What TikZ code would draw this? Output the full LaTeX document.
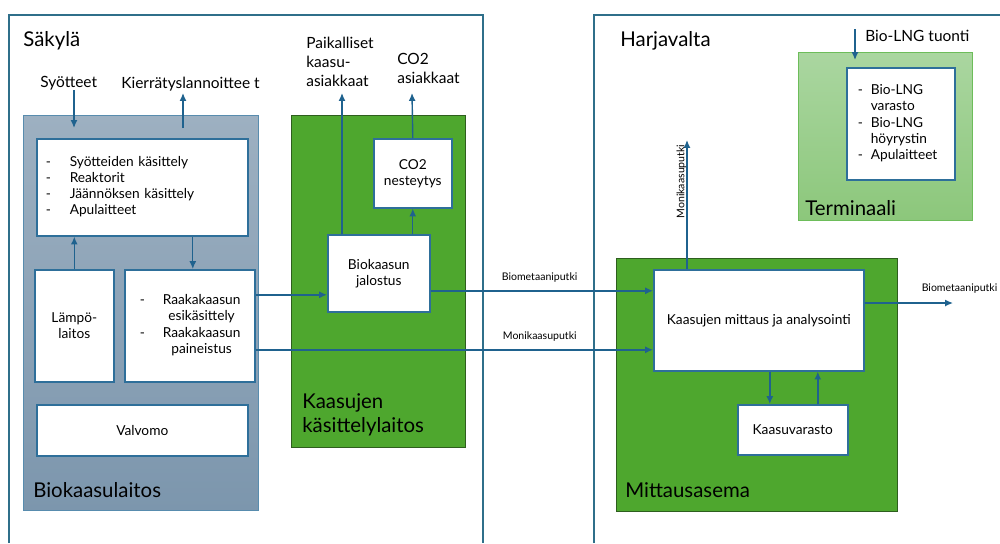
\documentclass[tikz,border=0pt]{standalone}
\usepackage{fontspec}
\setmainfont{Lato}
\usetikzlibrary{arrows.meta,positioning}

\definecolor{framec}{HTML}{2F6F8A}
\definecolor{boxc}{HTML}{2E6F9A}
\definecolor{pipec}{HTML}{1F628E}
\definecolor{plantt}{HTML}{9DB0C1}
\definecolor{plantb}{HTML}{7C96AD}
\definecolor{greenc}{HTML}{4EA72E}
\definecolor{greend}{HTML}{2E5E1E}
\definecolor{termt}{HTML}{AAD6A0}
\definecolor{termb}{HTML}{8CC77B}
\definecolor{termd}{HTML}{6DBD5A}

\begin{document}
\begin{tikzpicture}[
    x=0.2mm, y=-0.2mm,
    frame/.style={draw=framec, line width=1.1pt},
    plant/.style={rectangle, draw=boxc!80, line width=0.8pt, top color=plantt, bottom color=plantb, anchor=north west},
    green/.style={rectangle, draw=greend, line width=0.8pt, fill=greenc, anchor=north west},
    term/.style={rectangle, draw=termd, line width=0.8pt, top color=termt, bottom color=termb, anchor=north west},
    box/.style={rectangle, draw=boxc, line width=0.9pt, fill=white, anchor=north west, align=center, inner sep=0pt, font=\fontsize{7.8}{9.2}\selectfont},
    arrow/.style={-{Latex[length=4.5pt,width=4pt]}, draw=pipec, line width=0.8pt},
    title/.style={font=\fontsize{11.6}{13.7}\selectfont, inner sep=0pt, anchor=west, align=left},
    label/.style={font=\fontsize{8.8}{10.8}\selectfont, inner sep=0pt, anchor=west, align=left},
    pipe/.style={font=\fontsize{6}{7}\selectfont, inner sep=0pt}
]
\useasboundingbox (0,0) rectangle (1000,543);

% Site frames
\draw[frame] (9,543) |- (483,15) -- (483,543);
\draw[frame] (594,543) |- (1000,15);
\node[title] (sak) at (23,41) {Säkylä};
\node[title] (har) at (620,41) {Harjavalta};

% Biokaasulaitos
\node[plant, minimum width=47mm, minimum height=79mm] (bio) at (23,115) {};
\node[title] (biot) at (33,490) {Biokaasulaitos};
\node[box, minimum width=42.2mm, minimum height=19.4mm, text width=38.6mm, align=left] (lista) at (36,138)
    {\begin{tabular}{@{}p{4.8mm}@{}l@{}}
     - & Syötteiden käsittely\\
     - & Reaktorit\\
     - & Jäännöksen käsittely\\
     - & Apulaitteet
     \end{tabular}};
\node[box, minimum width=15.8mm, minimum height=22.4mm] (lampo) at (34,269) {Lämpö-\\laitos};
\node[box, minimum width=26mm, minimum height=22.4mm, text width=20mm, align=left] (raaka) at (124,269)
    {\begin{tabular}{@{}p{4.6mm}@{}c@{}}
     - & Raakakaasun\\
       & esikäsittely\\
     - & Raakakaasun\\
       & paineistus
     \end{tabular}};
\node[box, minimum width=42.2mm, minimum height=10.2mm] (valvomo) at (36,404) {Valvomo};

% Kaasujen kasittelylaitos
\node[green, minimum width=34.8mm, minimum height=66.4mm] (kasit) at (291,115) {};
\node[title] (kasitt) at (302,415) {Kaasujen\\käsittelylaitos};
\node[box, minimum width=20.4mm, minimum height=15.4mm] (jalostus) at (327,234) {Biokaasun\\jalostus};
\node[box, minimum width=15.6mm, minimum height=13.8mm] (co2) at (373,138) {CO2\\nesteytys};

% Mittausasema
\node[green, minimum width=56.2mm, minimum height=50.6mm] (mitt) at (616,258) {};
\node[title] (mittt) at (625,490) {Mittausasema};
\node[box, minimum width=42mm, minimum height=20.2mm] (mittaus) at (653,269) {Kaasujen mittaus ja analysointi};
\node[box, minimum width=22mm, minimum height=10mm] (varasto) at (737,404) {Kaasuvarasto};

% Terminaali
\node[term, minimum width=34.8mm, minimum height=33.6mm] (term) at (798,52) {};
\node[title] (termt) at (805,208) {Terminaali};
\node[box, minimum width=21.6mm, minimum height=22.4mm, text width=17.2mm, align=left] (lng) at (846,67)
    {\begin{tabular}{@{}p{2.6mm}@{}l@{}}
     - & Bio-LNG\\
       & varasto\\
     - & Bio-LNG\\
       & höyrystin\\
     - & Apulaitteet
     \end{tabular}};

% Outer labels
\node[label] (syo) at (40,83) {Syötteet};
\node[label] (kier) at (121,84) {Kierrätyslannoittee t};
\node[label] (paik) at (306,62) {Paikalliset\\kaasu-\\asiakkaat};
\node[label] (co2as) at (397,68) {CO2\\asiakkaat};
\node[label] (tuonti) at (865,36) {Bio-LNG tuonti};

% Free arrow ends
\coordinate (syoin) at (74,128);
\coordinate (kierin) at (183,128);
\coordinate (kierout) at (183,93);
\coordinate (paikout) at (342,93);
\coordinate (co2out) at (412,93);
\coordinate (monout) at (687,140);
\coordinate (bioout) at (953,303);
\coordinate (lngin) at (855,29);
\coordinate (lngtip) at (855,60);

% Biokaasulaitos arrows
\draw[arrow] (syo.south -| syoin) -- (syoin);
\draw[arrow] (kierin) -- (kierout);
\draw[arrow] (lampo.north) -- (lampo.north |- lista.south);
\draw[arrow] ([xshift=0.6mm]raaka.north |- lista.south) -- ([xshift=0.6mm]raaka.north);

% Kasittelylaitos arrows
\draw[arrow] ([yshift=6.2mm]raaka.east) -- ([yshift=6.2mm]raaka.east -| jalostus.west);
\draw[arrow] (paikout |- jalostus.north) -- (paikout);
\draw[arrow] (co2.south |- jalostus.north) -- (co2.south);
\draw[arrow] (co2.north) -- (co2out);

% Pipelines
\draw[arrow] ([yshift=-3.5mm]jalostus.east) -- ([yshift=-3.5mm]jalostus.east -| mittaus.west)
    node[pipe, pos=0.49, above=1.5mm] (bioput) {Biometaaniputki};
\draw[arrow] ([yshift=-4.8mm]raaka.east) -- ([yshift=-4.8mm]raaka.east -| mittaus.west)
    node[pipe, pos=0.715, above=1.5mm] (monput) {Monikaasuputki};
\draw[arrow] (monout |- mittaus.north) -- (monout)
    node[pipe, pos=0.62, rotate=90, above=1.5mm] (monput2) {Monikaasuputki};
\draw[arrow] (bioout -| mittaus.east) -- (bioout)
    node[pipe, anchor=south east, xshift=9mm, yshift=1.8mm] (bioput2) {Biometaaniputki};

% Mittausasema arrows
\draw[arrow] ([xshift=-4.6mm]varasto.north |- mittaus.south) -- ([xshift=-4.6mm]varasto.north);
\draw[arrow] ([xshift=5mm]varasto.north) -- ([xshift=5mm]varasto.north |- mittaus.south);

% Terminaali arrow
\draw[arrow] (lngin) -- (lngtip);

\end{tikzpicture}
\end{document}
